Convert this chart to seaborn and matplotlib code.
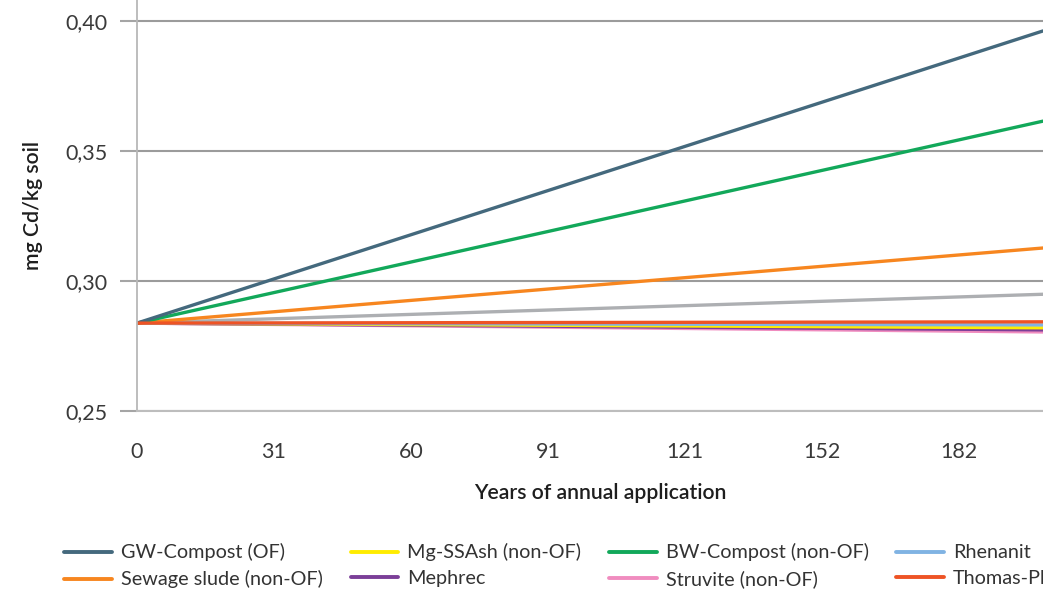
import numpy as np
import pandas as pd
import matplotlib
matplotlib.use("Agg")
import matplotlib.pyplot as plt
import seaborn as sns

# values (mg Cd/kg soil at start and at the right edge)
years = [0, 201]
series_names = ["GW-Compost (OF)", "Sewage slude (non-OF)", "Mg-SSAsh (non-OF)", "Mephrec",
                "BW-Compost (non-OF)", "Struvite (non-OF)", "Rhenanit", "Thomas-Phosphat", "_other"]
start_values = [0.2838] * 9
end_values = [0.3962, 0.3127, 0.2820, 0.2812, 0.3615, 0.2804, 0.2831, 0.2843, 0.2949]
colors = ["#44697d", "#f7861f", "#ffec00", "#7b3f98", "#12a85a", "#f08cbf", "#80b3e3", "#ee5325", "#adafb2"]
tick_labels = ["0", "31", "60", "91", "121", "152", "182"]

rows = []
for name, s, e in zip(series_names, start_values, end_values):
    rows.append({"series": name, "year": years[0], "cd": s})
    rows.append({"series": name, "year": years[1], "cd": e})
df = pd.DataFrame(rows)

sns.set_style("white")
plt.rcParams["font.family"] = ["Lato", "DejaVu Sans"]

fig = plt.figure(figsize=(10.43, 5.91), dpi=100)
ax = fig.add_axes([0.1313, 0.3046, 0.8687, 0.6954])

draw_order = ["_other", "Struvite (non-OF)", "Mephrec", "Mg-SSAsh (non-OF)", "Rhenanit",
              "Sewage slude (non-OF)", "BW-Compost (non-OF)", "GW-Compost (OF)", "Thomas-Phosphat"]
palette = dict(zip(series_names, colors))
for name in draw_order:
    sub = df[df["series"] == name]
    sns.lineplot(data=sub, x="year", y="cd", color=palette[name], linewidth=2.4,
                 label=name, ax=ax, legend=False)

ax.set_xlim(0, 201)
ax.set_ylim(0.25, 0.4081)
ax.set_yticks([0.25, 0.30, 0.35, 0.40])
ax.set_yticklabels(["0,25", "0,30", "0,35", "0,40"])
ax.set_xticks(np.arange(len(tick_labels)) * 30.4)
ax.set_xticklabels(tick_labels)

ax.grid(axis="y", color="#9b9b9b", linewidth=1.5)
ax.grid(axis="x", visible=False)
for sp in ["top", "right"]:
    ax.spines[sp].set_visible(False)
ax.spines["left"].set_color("#b8b8b8")
ax.spines["left"].set_linewidth(1.3)
ax.spines["bottom"].set_color("#bdbdbd")
ax.spines["bottom"].set_linewidth(1.5)
ax.set_axisbelow(True)

ax.tick_params(axis="y", length=12, width=1.5, color="#a5a5a5", pad=9,
               labelsize=15.5, labelcolor="#3a3a3a", left=True)
ax.tick_params(axis="x", length=0, pad=22, labelsize=15.5, labelcolor="#3a3a3a")

ax.set_xlabel("Years of annual application", fontsize=15.3, fontweight="semibold",
              color="#1e1e1e", labelpad=16)
ax.xaxis.set_label_coords(0.511, -0.176)
ax.set_ylabel("mg Cd/kg soil", fontsize=15.3, fontweight="semibold", color="#1e1e1e", labelpad=16)

handles, labels = ax.get_legend_handles_labels()
lookup = dict(zip(labels, handles))
legend_order = series_names[:8]
leg = fig.legend([lookup[n] for n in legend_order], legend_order, ncol=4, loc="upper left",
                 bbox_to_anchor=(0.054, 0.094), frameon=False, fontsize=14.3,
                 handlelength=2.4, handletextpad=0.45, columnspacing=1.4, labelspacing=0.45,
                 borderaxespad=0, labelcolor="#333333")
for h in leg.get_lines():
    h.set_linewidth(2.8)

fig.savefig("out.png", dpi=100)
